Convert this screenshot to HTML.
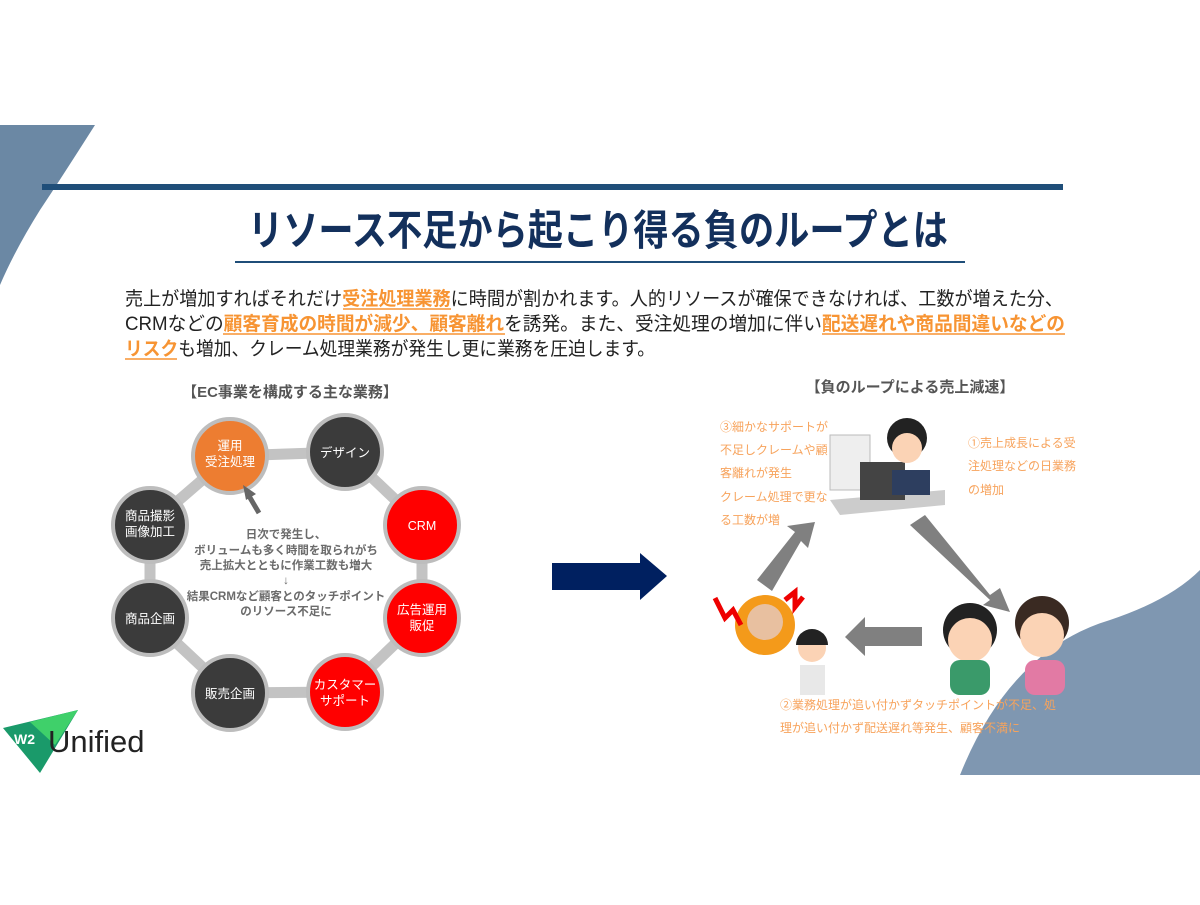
<!DOCTYPE html>
<html><head><meta charset="utf-8"><style>
body{margin:0;background:#fff;}
svg text{font-family:"Liberation Sans","Noto Sans CJK JP",sans-serif;}
</style></head><body>
<svg width="1200" height="900" viewBox="0 0 1200 900" xmlns="http://www.w3.org/2000/svg">
<rect width="1200" height="900" fill="#fff"/>
<path d="M0 125 L95 125 Q60 180 40 210 Q15 250 0 285 Z" fill="#6b88a4"/>
<path d="M960 775 Q1010 650 1110 620 Q1170 600 1200 570 L1200 775 Z" fill="#7f97b1"/>
<rect x="42" y="184" width="1021" height="6" fill="#1f4e79"/>
<text x="248" y="245" textLength="700" lengthAdjust="spacingAndGlyphs" font-size="42" font-weight="bold" fill="#13305c">リソース不足から起こり得る負のループとは</text>
<rect x="235" y="261" width="730" height="2" fill="#1f4e79"/>
<g font-size="19" fill="#222">
<text x="125" y="305" textLength="938" lengthAdjust="spacingAndGlyphs">売上が増加すればそれだけ<tspan fill="#f79433" font-weight="bold">受注処理業務</tspan>に時間が割かれます。人的リソースが確保できなければ、工数が増えた分、</text>
<text x="125" y="330" textLength="940" lengthAdjust="spacingAndGlyphs">CRMなどの<tspan fill="#f79433" font-weight="bold">顧客育成の時間が減少、顧客離れ</tspan>を誘発。また、受注処理の増加に伴い<tspan fill="#f79433" font-weight="bold">配送遅れや商品間違いなどの</tspan></text>
<text x="125" y="355" textLength="530" lengthAdjust="spacingAndGlyphs"><tspan fill="#f79433" font-weight="bold">リスク</tspan>も増加、クレーム処理業務が発生し更に業務を圧迫します。</text>
</g>
<g stroke="#f79433" stroke-width="1.5"><line x1="343" y1="309" x2="451" y2="309"/><line x1="223" y1="334" x2="505" y2="334"/><line x1="822" y1="334" x2="1065" y2="334"/><line x1="125" y1="359" x2="177" y2="359"/></g>
<text x="290" y="397" text-anchor="middle" font-size="15" font-weight="bold" fill="#555">【EC事業を構成する主な業務】</text>
<polygon points="230,456 345,452 422,525 422,618 345,692 230,693 150,618 150,525" fill="none" stroke="#c3c3c3" stroke-width="11"/>
<g stroke="#bdbdbd" stroke-width="4">
<circle cx="230" cy="456" r="37" fill="#ed7d31"/>
<circle cx="345" cy="452" r="37" fill="#3b3b3b"/>
<circle cx="422" cy="525" r="37" fill="#ff0000"/>
<circle cx="422" cy="618" r="37" fill="#ff0000"/>
<circle cx="345" cy="692" r="37" fill="#ff0000"/>
<circle cx="230" cy="693" r="37" fill="#3b3b3b"/>
<circle cx="150" cy="618" r="37" fill="#3b3b3b"/>
<circle cx="150" cy="525" r="37" fill="#3b3b3b"/>
</g>
<g font-size="12.5" fill="#fff" text-anchor="middle">
<text x="230" y="450">運用</text><text x="230" y="466">受注処理</text>
<text x="345" y="457">デザイン</text>
<text x="422" y="530">CRM</text>
<text x="422" y="614">広告運用</text><text x="422" y="630">販促</text>
<text x="345" y="689">カスタマー</text><text x="345" y="705">サポート</text>
<text x="230" y="698">販売企画</text>
<text x="150" y="623">商品企画</text>
<text x="150" y="520">商品撮影</text><text x="150" y="536">画像加工</text>
</g>
<line x1="259" y1="513" x2="249" y2="496" stroke="#666" stroke-width="5"/>
<polygon points="243,485 256,494 246,500" fill="#666"/>
<g font-size="11.5" font-weight="bold" fill="#6b6b6b" text-anchor="middle">
<text x="286" y="538">日次で発生し、</text>
<text x="286" y="554">ボリュームも多く時間を取られがち</text>
<text x="286" y="569">売上拡大とともに作業工数も増大</text>
<text x="286" y="584">↓</text>
<text x="286" y="600">結果CRMなど顧客とのタッチポイント</text>
<text x="286" y="615">のリソース不足に</text>
</g>
<polygon points="3,728 78,710 40,773" fill="#1a9a6a"/>
<polygon points="30,722 78,710 55,745" fill="#3fd06a"/>
<text x="14" y="744" font-size="14" font-weight="bold" fill="#fff">W2</text>
<text x="48" y="752" font-size="31" fill="#222">Unified</text>
<polygon points="552,563 640,563 640,553 667,576 640,600 640,590 552,590" fill="#002060"/>
<text x="910" y="392" text-anchor="middle" font-size="15" font-weight="bold" fill="#555">【負のループによる売上減速】</text>
<g font-size="12" fill="#f7a35c">
<text x="720" y="431">③細かなサポートが</text>
<text x="720" y="454">不足しクレームや顧</text>
<text x="720" y="477">客離れが発生</text>
<text x="720" y="501">クレーム処理で更な</text>
<text x="720" y="524">る工数が増</text>
<text x="968" y="447">①売上成長による受</text>
<text x="968" y="470">注処理などの日業務</text>
<text x="968" y="494">の増加</text>
<text x="780" y="709">②業務処理が追い付かずタッチポイントが不足、処</text>
<text x="780" y="732">理が追い付かず配送遅れ等発生、顧客不満に</text>
</g>
<g fill="#808080">
<polygon points="757,580 795,532 787,526 815,522 808,548 801,541 772,591"/>
<polygon points="910,525 925,515 990,595 1000,588 1010,612 983,605 990,600"/>
<polygon points="922,627 865,627 865,617 845,637 865,656 865,646 922,646"/>
</g>
<rect x="830" y="435" width="40" height="55" fill="#eee" stroke="#bbb"/>
<polygon points="830,500 945,490 945,505 840,515" fill="#ccc"/>
<rect x="860" y="462" width="45" height="38" fill="#444"/>
<circle cx="907" cy="438" r="20" fill="#222"/>
<circle cx="907" cy="448" r="15" fill="#fbd3b5"/>
<rect x="892" y="470" width="38" height="25" fill="#2d3e5f"/>
<circle cx="970" cy="630" r="27" fill="#222"/><circle cx="970" cy="640" r="22" fill="#fbd3b5"/>
<rect x="950" y="660" width="40" height="35" rx="10" fill="#3a9a6a"/>
<circle cx="1042" cy="623" r="27" fill="#3a2a22"/><circle cx="1042" cy="635" r="22" fill="#fbd3b5"/>
<rect x="1025" y="660" width="40" height="35" rx="10" fill="#e27aa4"/>
<circle cx="765" cy="625" r="30" fill="#f49a1a"/>
<circle cx="765" cy="622" r="18" fill="#e8c0a0"/>
<path d="M715 598 l10 20 l8 -8 l8 15" stroke="#e00" stroke-width="5" fill="none"/>
<path d="M785 600 l10 -8 l0 15 l8 -10" stroke="#e00" stroke-width="5" fill="none"/>
<circle cx="812" cy="648" r="14" fill="#fbd3b5"/><path d="M796 645 a16 16 0 0 1 32 0" fill="#222"/>
<rect x="800" y="665" width="25" height="30" fill="#e8e8e8"/>
</svg>
</body></html>
